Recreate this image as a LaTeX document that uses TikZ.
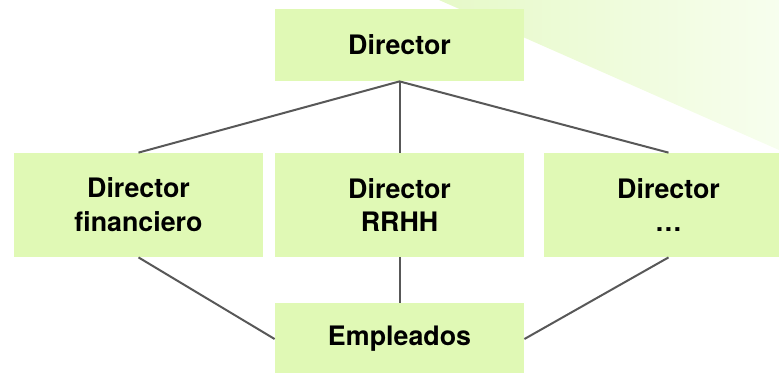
\documentclass[tikz,border=0pt]{standalone}
\usepackage{fontspec}
\setmainfont{TeX Gyre Heros}
\usetikzlibrary{positioning, shapes, arrows.meta, calc}

\begin{document}
\begin{tikzpicture}[x=0.5pt, y=-0.5pt, font=\bfseries\fontsize{13.4}{17}\selectfont]
                    \definecolor{caja}{RGB}{224, 249, 181} \definecolor{linea}{RGB}{88, 88, 88}
                    \definecolor{fondoA}{RGB}{230, 249, 200} \definecolor{fondoB}{RGB}{247, 254, 238}
                    \tikzset{puesto/.style={fill=caja, minimum width=124.5pt, align=center, inner sep=0pt},
                             enlace/.style={draw=linea, line width=1pt}}

                    \useasboundingbox (0,0) rectangle (779,372);
                    \clip (0,0) rectangle (779,372);
                    \shade[left color=fondoA, right color=fondoB] (439,0) -- (779,0) -- (779,150) -- cycle;

                    \node[puesto, minimum height=36pt] (dir) at (399.5,45) {Director};
                    \node[puesto, minimum height=52pt] (fin) at (138.5,205) {Director\\financiero};
                    \node[puesto, minimum height=52pt] (rrhh) at (399.5,205) {Director\\RRHH};
                    \node[puesto, minimum height=52pt] (otro) at (668.5,205) {Director\\\ldots};
                    \node[puesto, minimum height=36pt] (emp) at (399.5,339) {Empleados};

                    \draw[enlace] (fin.north) -- (dir.south) -- (otro.north);
                    \draw[enlace] (dir.south) -- (rrhh.north);
                    \draw[enlace] (fin.south) -- (emp.west);
                    \draw[enlace] (rrhh.south) -- (emp.north);
                    \draw[enlace] (otro.south) -- (emp.east);
\end{tikzpicture}
\end{document}
